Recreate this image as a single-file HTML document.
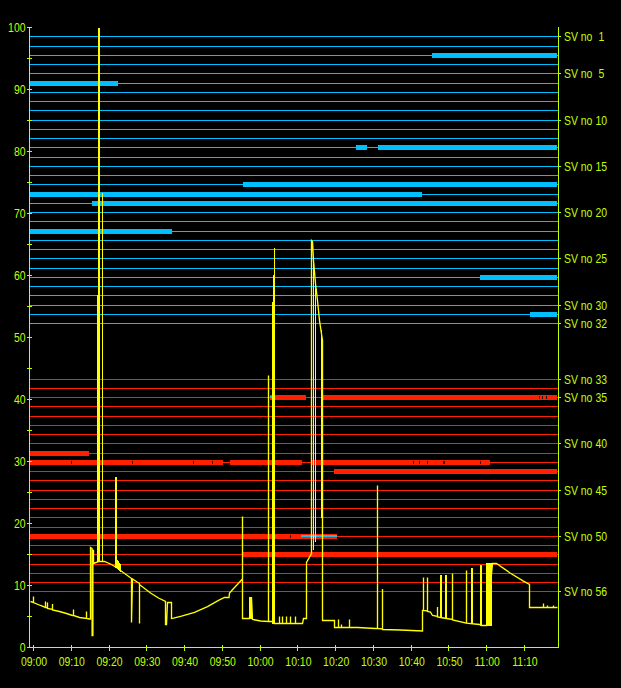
<!DOCTYPE html>
<html><head><meta charset="utf-8"><style>
html,body{margin:0;padding:0;background:#000;width:621px;height:688px;overflow:hidden}
svg{display:block}
.t{font-family:"Liberation Sans",sans-serif;font-size:12px;fill:#c0ff00}
</style></head><body>
<svg width="621" height="688" viewBox="0 0 621 688">
<rect width="621" height="688" fill="#000"/>
<g shape-rendering="crispEdges">
<rect x="30" y="36" width="528" height="1" fill="#00bfff"/>
<rect x="30" y="46" width="528" height="1" fill="#00bfff"/>
<rect x="30" y="55" width="528" height="1" fill="#00bfff"/>
<rect x="30" y="64" width="528" height="1" fill="#00bfff"/>
<rect x="30" y="73" width="528" height="1" fill="#00bfff"/>
<rect x="30" y="83" width="528" height="1" fill="#00bfff"/>
<rect x="30" y="92" width="528" height="1" fill="#00bfff"/>
<rect x="30" y="101" width="528" height="1" fill="#00bfff"/>
<rect x="30" y="110" width="528" height="1" fill="#00bfff"/>
<rect x="30" y="120" width="528" height="1" fill="#00bfff"/>
<rect x="30" y="129" width="528" height="1" fill="#00bfff"/>
<rect x="30" y="138" width="528" height="1" fill="#00bfff"/>
<rect x="30" y="147" width="528" height="1" fill="#00bfff"/>
<rect x="30" y="157" width="528" height="1" fill="#00bfff"/>
<rect x="30" y="166" width="528" height="1" fill="#00bfff"/>
<rect x="30" y="175" width="528" height="1" fill="#00bfff"/>
<rect x="30" y="184" width="528" height="1" fill="#00bfff"/>
<rect x="30" y="194" width="528" height="1" fill="#00bfff"/>
<rect x="30" y="203" width="528" height="1" fill="#00bfff"/>
<rect x="30" y="212" width="528" height="1" fill="#00bfff"/>
<rect x="30" y="221" width="528" height="1" fill="#00bfff"/>
<rect x="30" y="231" width="528" height="1" fill="#00bfff"/>
<rect x="30" y="240" width="528" height="1" fill="#00bfff"/>
<rect x="30" y="249" width="528" height="1" fill="#00bfff"/>
<rect x="30" y="258" width="528" height="1" fill="#00bfff"/>
<rect x="30" y="268" width="528" height="1" fill="#00bfff"/>
<rect x="30" y="277" width="528" height="1" fill="#00bfff"/>
<rect x="30" y="286" width="528" height="1" fill="#00bfff"/>
<rect x="30" y="295" width="528" height="1" fill="#00bfff"/>
<rect x="30" y="305" width="528" height="1" fill="#00bfff"/>
<rect x="30" y="314" width="528" height="1" fill="#00bfff"/>
<rect x="30" y="323" width="528" height="1" fill="#00bfff"/>
<rect x="30" y="379" width="528" height="1" fill="#ff2000"/>
<rect x="30" y="388" width="528" height="1" fill="#ff2000"/>
<rect x="30" y="397" width="528" height="1" fill="#ff2000"/>
<rect x="30" y="406" width="528" height="1" fill="#ff2000"/>
<rect x="30" y="416" width="528" height="1" fill="#ff2000"/>
<rect x="30" y="425" width="528" height="1" fill="#ff2000"/>
<rect x="30" y="434" width="528" height="1" fill="#ff2000"/>
<rect x="30" y="443" width="528" height="1" fill="#ff2000"/>
<rect x="30" y="453" width="528" height="1" fill="#ff2000"/>
<rect x="30" y="462" width="528" height="1" fill="#ff2000"/>
<rect x="30" y="471" width="528" height="1" fill="#ff2000"/>
<rect x="30" y="480" width="528" height="1" fill="#ff2000"/>
<rect x="30" y="490" width="528" height="1" fill="#ff2000"/>
<rect x="30" y="499" width="528" height="1" fill="#ff2000"/>
<rect x="30" y="508" width="528" height="1" fill="#ff2000"/>
<rect x="30" y="517" width="528" height="1" fill="#ff2000"/>
<rect x="30" y="527" width="528" height="1" fill="#ff2000"/>
<rect x="30" y="536" width="528" height="1" fill="#ff2000"/>
<rect x="30" y="545" width="528" height="1" fill="#ff2000"/>
<rect x="30" y="554" width="528" height="1" fill="#ff2000"/>
<rect x="30" y="564" width="528" height="1" fill="#ff2000"/>
<rect x="30" y="573" width="528" height="1" fill="#ff2000"/>
<rect x="30" y="582" width="528" height="1" fill="#ff2000"/>
<rect x="30" y="591" width="528" height="1" fill="#ff2000"/>
<rect x="432" y="53" width="125" height="5" fill="#00bfff"/>
<rect x="30" y="81" width="88" height="5" fill="#00bfff"/>
<rect x="356" y="145" width="11" height="5" fill="#00bfff"/>
<rect x="378" y="145" width="179" height="5" fill="#00bfff"/>
<rect x="243" y="182" width="314" height="5" fill="#00bfff"/>
<rect x="30" y="192" width="392" height="5" fill="#00bfff"/>
<rect x="92" y="201" width="465" height="5" fill="#00bfff"/>
<rect x="30" y="229" width="142" height="5" fill="#00bfff"/>
<rect x="480" y="275" width="77" height="5" fill="#00bfff"/>
<rect x="530" y="312" width="27" height="5" fill="#00bfff"/>
<rect x="270" y="395" width="36" height="5" fill="#ff2000"/>
<rect x="323" y="395" width="234" height="5" fill="#ff2000"/>
<rect x="30" y="451" width="59" height="5" fill="#ff2000"/>
<rect x="30" y="460" width="193" height="5" fill="#ff2000"/>
<rect x="230" y="460" width="72" height="5" fill="#ff2000"/>
<rect x="311" y="460" width="179" height="5" fill="#ff2000"/>
<rect x="334" y="469" width="223" height="5" fill="#ff2000"/>
<rect x="30" y="534" width="307" height="5" fill="#ff2000"/>
<rect x="243" y="552" width="314" height="5" fill="#ff2000"/>
<rect x="301" y="535" width="36" height="2" fill="#20b8e8"/>
<rect x="270" y="396" width="2" height="2" fill="#00bfff"/>
<rect x="71" y="461" width="1" height="3" fill="#300800"/>
<rect x="132" y="461" width="1" height="3" fill="#300800"/>
<rect x="193" y="461" width="1" height="3" fill="#300800"/>
<rect x="212" y="461" width="1" height="3" fill="#300800"/>
<rect x="413" y="461" width="1" height="3" fill="#300800"/>
<rect x="419" y="461" width="1" height="3" fill="#300800"/>
<rect x="427" y="461" width="1" height="3" fill="#300800"/>
<rect x="443" y="461" width="2" height="3" fill="#300800"/>
<rect x="480" y="461" width="1" height="3" fill="#300800"/>
<rect x="539" y="396" width="1" height="3" fill="#300800"/>
<rect x="542" y="396" width="1" height="3" fill="#300800"/>
<rect x="546" y="396" width="1" height="3" fill="#300800"/>
<rect x="290" y="535" width="1" height="3" fill="#300800"/>
</g>
<g shape-rendering="crispEdges">
<rect x="29" y="27" width="1" height="621" fill="#c0ff00"/>
<rect x="558" y="27" width="1" height="621" fill="#c0ff00"/>
<rect x="29" y="647" width="530" height="1" fill="#c0ff00"/>
<rect x="27" y="647" width="5" height="1" fill="#c0ff00"/>
<rect x="27" y="616" width="5" height="1" fill="#c0ff00"/>
<rect x="27" y="585" width="5" height="1" fill="#c0ff00"/>
<rect x="27" y="554" width="5" height="1" fill="#c0ff00"/>
<rect x="27" y="523" width="5" height="1" fill="#c0ff00"/>
<rect x="27" y="492" width="5" height="1" fill="#c0ff00"/>
<rect x="27" y="461" width="5" height="1" fill="#c0ff00"/>
<rect x="27" y="430" width="5" height="1" fill="#c0ff00"/>
<rect x="27" y="399" width="5" height="1" fill="#c0ff00"/>
<rect x="27" y="368" width="5" height="1" fill="#c0ff00"/>
<rect x="27" y="337" width="5" height="1" fill="#c0ff00"/>
<rect x="27" y="306" width="5" height="1" fill="#c0ff00"/>
<rect x="27" y="275" width="5" height="1" fill="#c0ff00"/>
<rect x="27" y="244" width="5" height="1" fill="#c0ff00"/>
<rect x="27" y="213" width="5" height="1" fill="#c0ff00"/>
<rect x="27" y="182" width="5" height="1" fill="#c0ff00"/>
<rect x="27" y="151" width="5" height="1" fill="#c0ff00"/>
<rect x="27" y="120" width="5" height="1" fill="#c0ff00"/>
<rect x="27" y="89" width="5" height="1" fill="#c0ff00"/>
<rect x="27" y="58" width="5" height="1" fill="#c0ff00"/>
<rect x="27" y="27" width="5" height="1" fill="#c0ff00"/>
<rect x="33" y="645" width="1" height="6" fill="#c0ff00"/>
<rect x="71" y="645" width="1" height="6" fill="#c0ff00"/>
<rect x="109" y="645" width="1" height="6" fill="#c0ff00"/>
<rect x="146" y="645" width="1" height="6" fill="#c0ff00"/>
<rect x="184" y="645" width="1" height="6" fill="#c0ff00"/>
<rect x="222" y="645" width="1" height="6" fill="#c0ff00"/>
<rect x="260" y="645" width="1" height="6" fill="#c0ff00"/>
<rect x="297" y="645" width="1" height="6" fill="#c0ff00"/>
<rect x="335" y="645" width="1" height="6" fill="#c0ff00"/>
<rect x="373" y="645" width="1" height="6" fill="#c0ff00"/>
<rect x="411" y="645" width="1" height="6" fill="#c0ff00"/>
<rect x="448" y="645" width="1" height="6" fill="#c0ff00"/>
<rect x="486" y="645" width="1" height="6" fill="#c0ff00"/>
<rect x="524" y="645" width="1" height="6" fill="#c0ff00"/>
<rect x="558" y="36" width="3" height="1" fill="#c0ff00"/>
<rect x="558" y="73" width="3" height="1" fill="#c0ff00"/>
<rect x="558" y="120" width="3" height="1" fill="#c0ff00"/>
<rect x="558" y="166" width="3" height="1" fill="#c0ff00"/>
<rect x="558" y="212" width="3" height="1" fill="#c0ff00"/>
<rect x="558" y="258" width="3" height="1" fill="#c0ff00"/>
<rect x="558" y="305" width="3" height="1" fill="#c0ff00"/>
<rect x="558" y="323" width="3" height="1" fill="#c0ff00"/>
<rect x="558" y="379" width="3" height="1" fill="#c0ff00"/>
<rect x="558" y="397" width="3" height="1" fill="#c0ff00"/>
<rect x="558" y="443" width="3" height="1" fill="#c0ff00"/>
<rect x="558" y="490" width="3" height="1" fill="#c0ff00"/>
<rect x="558" y="536" width="3" height="1" fill="#c0ff00"/>
<rect x="558" y="591" width="3" height="1" fill="#c0ff00"/>
</g>
<g transform="translate(0.5,0.5)"><path d="M30,601 L33,602 L33,596 L33,602 L40,605 L45,607 L45,601 L45,607 L47,607 L47,602 L47,608 L52,609 L52,603.5 L52,609.5 L59,611 L66,613 L72,615 L73,615 L73,609 L73,615 L79,617 L86,618 L86,611 L86,618 L89,618.5 L90,618.5 L90,547 L91.6,548 L91.6,635 L92.4,635 L92.4,550 L93,550 L93,563 L98,561 L104,561 L110,563.5 L116,567 L131,578 L131,622 L132,578.5 L139,583 L139,623 L139,584 L150,592.5 L158,597.5 L165,601 L165,624 L166,624 L167,602 L171,602 L171,618 L173,617.7 L181,615.7 L194,611.9 L207,606.1 L218,599.8 L224,597 L228.5,597 L229,592.5 L232.4,588.7 L241.5,579 L242,579 L242,516 L242,618 L249,618 L250,597.5 L251,597.5 L252,619 L255,619.5 L260,620.5 L268,621 L268,375 L268,621 L272,621 L274,623 L279,623 L279,616 L279,623 L282,623 L282,616 L282,623 L286,623 L286,616 L286,623 L290,623 L290,616 L290,623 L295,623 L295,616 L295,623 L302,623 L303,618 L306,618 L306,562 L311,553 L311,240 L312,241 L313,260 L315,283 L317,300 L319,320 L322,340 L322,620 L334,620 L334,627 L338,627 L338,619 L338,627 L341,627 L341,624 L341,627 L349,627 L349,619 L349,627 L357,627 L375,628 L377,628 L377,485 L377,628 L382,628.5 L382,588.5 L382,629 L400,629.5 L422,630.5 L422,610 L423,610 L423,577 L423,610 L427,610.5 L427,577 L427,611 L430,611.7 L432,615 L437,616 L437,606.5 L437,616.5 L440,617 L446,618 L452,619 L452,573 L452,619.4 L466,622.7 L466,570 L466,622.7 L479,624 L481,625 L486,625 L492,563 L496,563 L509.6,572.5 L522.5,580.3 L529,584 L529,607 L543,607 L543,603 L543,607 L547,607 L547,605 L547,607 L553,607 L553,605 L553,607 L557,607" fill="none" stroke="#ffff00" stroke-width="1.35" stroke-linejoin="miter"/></g>
<g shape-rendering="crispEdges"><rect x="98" y="28" width="2" height="534" fill="#ffff00"/><rect x="97" y="295" width="3" height="267" fill="#ffff00"/><rect x="102" y="193" width="1" height="369" fill="#ffff00"/><rect x="115" y="477" width="2" height="91" fill="#ffff00"/><rect x="272" y="302" width="3" height="322" fill="#ffff00"/><rect x="273" y="275" width="2" height="28" fill="#ffff00"/><rect x="274" y="248" width="1" height="28" fill="#ffff00"/><rect x="313" y="260" width="1" height="290" fill="#ffff00"/><rect x="315" y="283" width="1" height="259" fill="#ffff00"/><rect x="321" y="330" width="1" height="188" fill="#ffff00"/><rect x="440" y="575" width="2" height="43" fill="#ffff00"/><rect x="445" y="575" width="2" height="44" fill="#ffff00"/><rect x="471" y="568" width="2" height="56" fill="#ffff00"/><rect x="480" y="565" width="2" height="61" fill="#ffff00"/><rect x="486" y="563" width="6" height="63" fill="#ffff00"/><rect x="249" y="597" width="3" height="22" fill="#ffff00"/><polygon points="115,560 118,560 121,565 121,572 115,567" fill="#ffff00"/></g>
<g>
<text transform="translate(25.50,651.50) scale(0.87,1)" text-anchor="end" class="t">0</text>
<text transform="translate(25.50,589.50) scale(0.87,1)" text-anchor="end" class="t">10</text>
<text transform="translate(25.50,527.50) scale(0.87,1)" text-anchor="end" class="t">20</text>
<text transform="translate(25.50,465.50) scale(0.87,1)" text-anchor="end" class="t">30</text>
<text transform="translate(25.50,403.50) scale(0.87,1)" text-anchor="end" class="t">40</text>
<text transform="translate(25.50,341.50) scale(0.87,1)" text-anchor="end" class="t">50</text>
<text transform="translate(25.50,279.50) scale(0.87,1)" text-anchor="end" class="t">60</text>
<text transform="translate(25.50,217.50) scale(0.87,1)" text-anchor="end" class="t">70</text>
<text transform="translate(25.50,155.50) scale(0.87,1)" text-anchor="end" class="t">80</text>
<text transform="translate(25.50,93.50) scale(0.87,1)" text-anchor="end" class="t">90</text>
<text transform="translate(25.50,31.50) scale(0.87,1)" text-anchor="end" class="t">100</text>
<text transform="translate(34.00,666.00) scale(0.87,1)" text-anchor="middle" class="t">09:00</text>
<text transform="translate(71.77,666.00) scale(0.87,1)" text-anchor="middle" class="t">09:10</text>
<text transform="translate(109.54,666.00) scale(0.87,1)" text-anchor="middle" class="t">09:20</text>
<text transform="translate(147.31,666.00) scale(0.87,1)" text-anchor="middle" class="t">09:30</text>
<text transform="translate(185.08,666.00) scale(0.87,1)" text-anchor="middle" class="t">09:40</text>
<text transform="translate(222.85,666.00) scale(0.87,1)" text-anchor="middle" class="t">09:50</text>
<text transform="translate(260.62,666.00) scale(0.87,1)" text-anchor="middle" class="t">10:00</text>
<text transform="translate(298.39,666.00) scale(0.87,1)" text-anchor="middle" class="t">10:10</text>
<text transform="translate(336.16,666.00) scale(0.87,1)" text-anchor="middle" class="t">10:20</text>
<text transform="translate(373.93,666.00) scale(0.87,1)" text-anchor="middle" class="t">10:30</text>
<text transform="translate(411.70,666.00) scale(0.87,1)" text-anchor="middle" class="t">10:40</text>
<text transform="translate(449.47,666.00) scale(0.87,1)" text-anchor="middle" class="t">10:50</text>
<text transform="translate(487.24,666.00) scale(0.87,1)" text-anchor="middle" class="t">11:00</text>
<text transform="translate(525.01,666.00) scale(0.87,1)" text-anchor="middle" class="t">11:10</text>
<text transform="translate(564.00,40.50) scale(0.87,1)" text-anchor="start" class="t">SV no</text>
<text transform="translate(598.50,40.50) scale(0.87,1)" text-anchor="start" class="t">1</text>
<text transform="translate(564.00,77.50) scale(0.87,1)" text-anchor="start" class="t">SV no</text>
<text transform="translate(598.50,77.50) scale(0.87,1)" text-anchor="start" class="t">5</text>
<text transform="translate(564.00,124.50) scale(0.87,1)" text-anchor="start" class="t">SV no</text>
<text transform="translate(595.50,124.50) scale(0.87,1)" text-anchor="start" class="t">10</text>
<text transform="translate(564.00,170.50) scale(0.87,1)" text-anchor="start" class="t">SV no</text>
<text transform="translate(595.50,170.50) scale(0.87,1)" text-anchor="start" class="t">15</text>
<text transform="translate(564.00,216.50) scale(0.87,1)" text-anchor="start" class="t">SV no</text>
<text transform="translate(595.50,216.50) scale(0.87,1)" text-anchor="start" class="t">20</text>
<text transform="translate(564.00,262.50) scale(0.87,1)" text-anchor="start" class="t">SV no</text>
<text transform="translate(595.50,262.50) scale(0.87,1)" text-anchor="start" class="t">25</text>
<text transform="translate(564.00,309.50) scale(0.87,1)" text-anchor="start" class="t">SV no</text>
<text transform="translate(595.50,309.50) scale(0.87,1)" text-anchor="start" class="t">30</text>
<text transform="translate(564.00,327.50) scale(0.87,1)" text-anchor="start" class="t">SV no</text>
<text transform="translate(595.50,327.50) scale(0.87,1)" text-anchor="start" class="t">32</text>
<text transform="translate(564.00,383.50) scale(0.87,1)" text-anchor="start" class="t">SV no</text>
<text transform="translate(595.50,383.50) scale(0.87,1)" text-anchor="start" class="t">33</text>
<text transform="translate(564.00,401.50) scale(0.87,1)" text-anchor="start" class="t">SV no</text>
<text transform="translate(595.50,401.50) scale(0.87,1)" text-anchor="start" class="t">35</text>
<text transform="translate(564.00,447.50) scale(0.87,1)" text-anchor="start" class="t">SV no</text>
<text transform="translate(595.50,447.50) scale(0.87,1)" text-anchor="start" class="t">40</text>
<text transform="translate(564.00,494.50) scale(0.87,1)" text-anchor="start" class="t">SV no</text>
<text transform="translate(595.50,494.50) scale(0.87,1)" text-anchor="start" class="t">45</text>
<text transform="translate(564.00,540.50) scale(0.87,1)" text-anchor="start" class="t">SV no</text>
<text transform="translate(595.50,540.50) scale(0.87,1)" text-anchor="start" class="t">50</text>
<text transform="translate(564.00,595.50) scale(0.87,1)" text-anchor="start" class="t">SV no</text>
<text transform="translate(595.50,595.50) scale(0.87,1)" text-anchor="start" class="t">56</text>
</g>
</svg>
</body></html>
